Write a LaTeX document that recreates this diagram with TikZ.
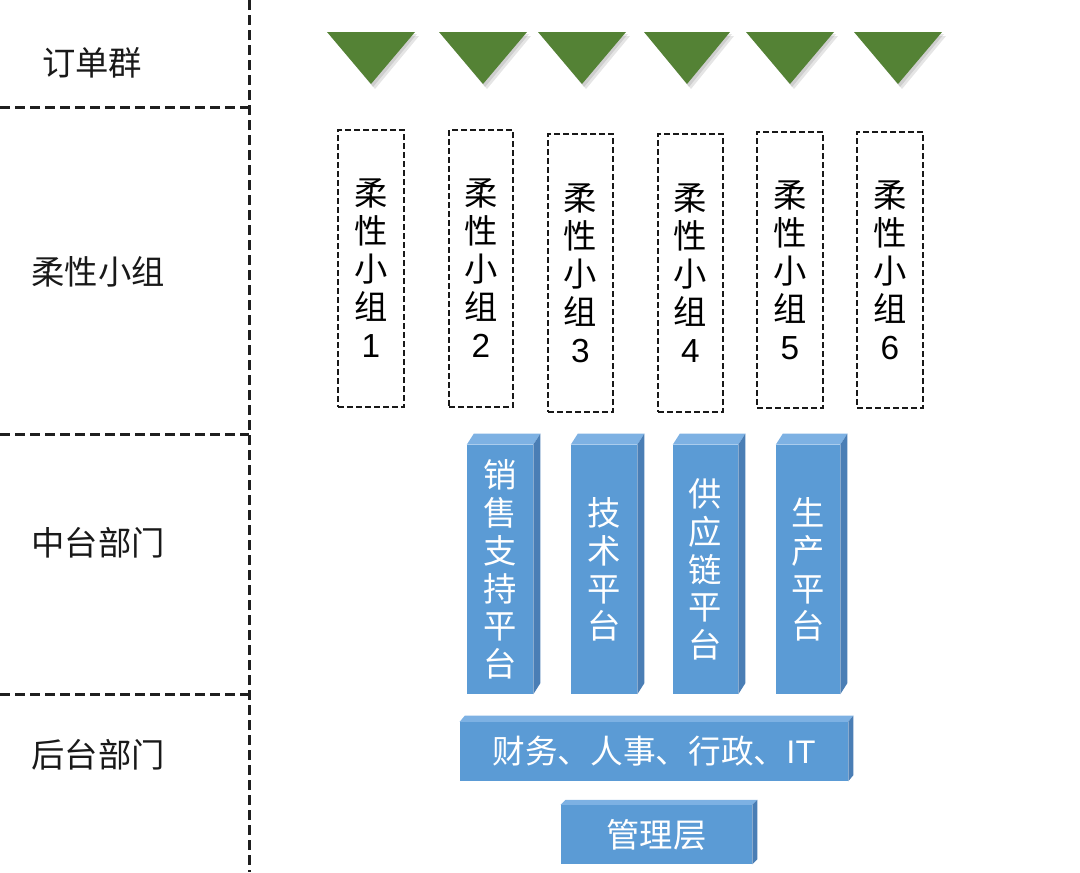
\documentclass[tikz,border=0pt]{standalone}
\usepackage{fontspec}
\setmainfont{Liberation Sans}
\newfontfamily\cjk{Noto Sans CJK SC}
\newfontfamily\lat{Liberation Sans}
\definecolor{trigreen}{HTML}{548235}
\definecolor{barfront}{HTML}{5B9BD5}
\definecolor{bartop}{HTML}{7DB1E3}
\definecolor{barside}{HTML}{4A7EB5}
\newcommand\solidbar[3]{%
  \fill[bartop] (#1.north west) -- ++(#2,#3) -- ([shift={(#2,#3)}]#1.north east) -- (#1.north east) -- cycle;
  \fill[barside] (#1.north east) -- ++(#2,#3) -- ([shift={(#2,#3)}]#1.south east) -- (#1.south east) -- cycle;
}
\begin{document}
\begin{tikzpicture}[x=0.75pt,y=-0.75pt,
  sep/.style={line width=2.25pt, dash pattern=on 7.5pt off 3.75pt, color=black!88},
  lbl/.style={font=\cjk\fontsize{25}{28}\selectfont, text=black!90},
  grp/.style={draw=black!90, line width=1.4pt, dash pattern=on 4.5pt off 2.25pt, inner sep=0pt, align=center, font=\cjk\fontsize{25}{28.5}\selectfont, text=black},
  plat/.style={fill=barfront, inner sep=0pt, text=white, align=center, font=\cjk\fontsize{25}{28.3}\selectfont},
]
\useasboundingbox (0,0) rectangle (1080,872);
% separators
\draw[sep] (249,0) -- (249,872);
\draw[sep] (0,107) -- (249,107);
\draw[sep] (0,434) -- (249,434);
\draw[sep] (0,694) -- (249,694);
% row labels
\node[lbl] (l1) at (92,63) {订单群};
\node[lbl] (l2) at (98,272) {柔性小组};
\node[lbl] (l3) at (98,543) {中台部门};
\node[lbl] (l4) at (98,755) {后台部门};
% triangles
\foreach \l/\r in {327/415,439/527,538/626,644/730,746/834,854/942}{
  \fill[black, opacity=0.10] ({\l+2},34) -- ({\r+2},34) -- ({(\l+\r)/2+2},87) -- cycle;
  \fill[black, opacity=0.10] ({\l+4},36) -- ({\r+4},36) -- ({(\l+\r)/2+4},89) -- cycle;
  \fill[trigreen] (\l,32) -- (\r,32) -- ({(\l+\r)/2},84) -- cycle;
}
% flexible groups
\node[grp, minimum width=49.5pt, minimum height=207.75pt] (g1) at (371,268.5) {柔\\性\\小\\组\\{\lat 1}};
\node[grp, minimum width=48pt, minimum height=207.75pt] (g2) at (481,268.5) {柔\\性\\小\\组\\{\lat 2}};
\node[grp, minimum width=48.75pt, minimum height=208.5pt] (g3) at (580.5,273) {柔\\性\\小\\组\\{\lat 3}};
\node[grp, minimum width=48.75pt, minimum height=208.5pt] (g4) at (690.5,273) {柔\\性\\小\\组\\{\lat 4}};
\node[grp, minimum width=49.5pt, minimum height=207pt] (g5) at (790,270) {柔\\性\\小\\组\\{\lat 5}};
\node[grp, minimum width=49.5pt, minimum height=207pt] (g6) at (890,270) {柔\\性\\小\\组\\{\lat 6}};
% middle platforms
\node[plat, minimum width=49.5pt, minimum height=186.75pt] (p1) at (500,569.5) {销\\售\\支\\持\\平\\台};
\node[plat, minimum width=49.5pt, minimum height=186.75pt] (p2) at (604,569.5) {技\\术\\平\\台};
\node[plat, minimum width=48.75pt, minimum height=186.75pt] (p3) at (705.5,569.5) {供\\应\\链\\平\\台};
\node[plat, minimum width=48pt, minimum height=186.75pt] (p4) at (808,569.5) {生\\产\\平\\台};
\solidbar{p1}{7}{-11}
\solidbar{p2}{7}{-11}
\solidbar{p3}{7}{-11}
\solidbar{p4}{7}{-11}
% back office
\node[plat, minimum width=291pt, minimum height=44.25pt, font=\cjk\fontsize{24.5}{28}\selectfont] (bo) at (654,751.5) {财务、人事、行政、{\lat IT}};
\solidbar{bo}{5}{-6}
\node[plat, minimum width=143.25pt, minimum height=44.25pt] (mg) at (656.5,834.5) {管理层};
\solidbar{mg}{5}{-5}
\end{tikzpicture}
\end{document}
